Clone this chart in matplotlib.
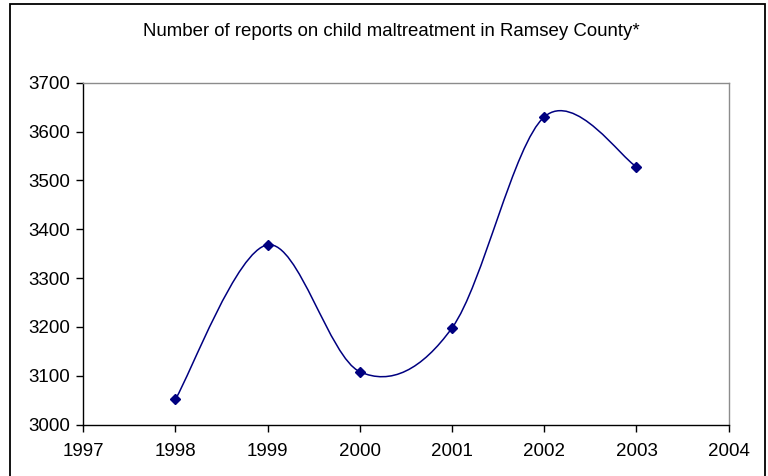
import matplotlib
matplotlib.use("Agg")
import matplotlib.pyplot as plt
from matplotlib.path import Path
from matplotlib.patches import PathPatch, Rectangle

plt.rcParams['font.family'] = ['Liberation Sans', 'DejaVu Sans']

years = [1998, 1999, 2000, 2001, 2002, 2003]
reports = [3052, 3368, 3108, 3198, 3630, 3528]
title = "Number of reports on child maltreatment in Ramsey County*"
x_ticks = [1997, 1998, 1999, 2000, 2001, 2002, 2003, 2004]
y_ticks = [3000, 3100, 3200, 3300, 3400, 3500, 3600, 3700]

W, H = 768, 476
fig = plt.figure(figsize=(W / 100, H / 100), dpi=100)
fig.patch.set_facecolor('white')

# outer chart frame
fig.add_artist(Rectangle((10 / W, -0.02), 755 / W, 1.02 - 4 / H,
                         transform=fig.transFigure, fill=False,
                         edgecolor='black', linewidth=1.3))

ax = fig.add_axes([83.3 / W, 1 - 424.5 / H, (728.7 - 83.3) / W, (424.5 - 82.7) / H])
ax.set_xlim(x_ticks[0], x_ticks[-1])
ax.set_ylim(y_ticks[0], y_ticks[-1])
ax.set_xticks(x_ticks)
ax.set_yticks(y_ticks)

for side in ('top', 'right'):
    ax.spines[side].set_color('#8c8c8c')
    ax.spines[side].set_linewidth(1.0)
for side in ('left', 'bottom'):
    ax.spines[side].set_color('black')
    ax.spines[side].set_linewidth(1.0)

ax.tick_params(axis='y', direction='out', length=5, width=1.0, pad=4.5,
               labelsize=13.5, colors='black')
ax.tick_params(axis='x', direction='out', length=5, width=1.0, pad=8,
               labelsize=13.5, colors='black')

# smoothed line: cubic Bezier segments with Catmull-Rom style control points
pts = list(zip(years, reports))
verts = [pts[0]]
codes = [Path.MOVETO]
n = len(pts)
for i in range(n - 1):
    p0 = pts[max(i - 1, 0)]
    p1 = pts[i]
    p2 = pts[i + 1]
    p3 = pts[min(i + 2, n - 1)]
    c1 = (p1[0] + (p2[0] - p0[0]) / 6, p1[1] + (p2[1] - p0[1]) / 6)
    c2 = (p2[0] - (p3[0] - p1[0]) / 6, p2[1] - (p3[1] - p1[1]) / 6)
    verts += [c1, c2, p2]
    codes += [Path.CURVE4] * 3
ax.add_patch(PathPatch(Path(verts, codes), fill=False, edgecolor='#000080',
                       linewidth=1.1, zorder=3))
ax.plot(years, reports, linestyle='none', marker='D', markersize=5.5,
        color='#000080', zorder=4)

fig.text(391 / W, 1 - 32 / H, title, ha='center', va='center',
         fontsize=13.4, color='black')

fig.savefig('out.png', dpi=100)
